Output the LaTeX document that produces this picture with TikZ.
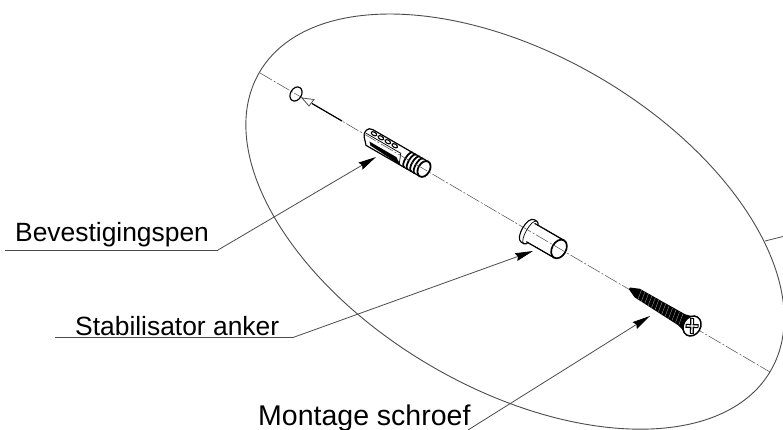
\documentclass[tikz,border=0pt]{standalone}
\usepackage{fontspec}
\setmainfont{Liberation Sans}
\usetikzlibrary{arrows.meta}
\definecolor{linegray}{gray}{0.3}
\tikzset{
  outline/.style={draw=black,line width=0.9pt,line join=round},
  heavy/.style={draw=black,line width=1.5pt},
  axisline/.style={draw=linegray,line width=0.5pt,dash pattern=on 14pt off 2pt on 2pt off 2pt},
  leader/.style={draw=linegray,line width=0.8pt,-{Stealth[length=18pt,width=8pt,inset=2pt,color=black]}},
  leaderplain/.style={draw=linegray,line width=0.8pt},
  labeltext/.style={anchor=base west,inner sep=0pt,font=\fontsize{26.4pt}{30pt}\selectfont,text=black},
}
\begin{document}
\begin{tikzpicture}[x=1pt,y=-1pt]
\useasboundingbox (0,0) rectangle (783,430);
\clip (0,0) rectangle (783,430);
\fill[white] (0,0) rectangle (783,430);
% big ellipse
\draw[draw=linegray,line width=0.9pt,rotate around={-30.3:(515,221.6)}] (515,221.6) ellipse [x radius=296pt,y radius=167pt];
% dowel
\begin{scope}[shift={(424,169)},rotate=-30]
  \draw[outline,line width=1.2pt,fill=white] (0,-8.5) -- (-64,-8.5) .. controls (-70,-8.5) and (-71,-2) .. (-68,2) -- (-62,8.5) -- (0,8.5) -- cycle;
  \foreach \px in {-6,-10,-14,-18}{
    \draw[draw=black,line width=1.8pt] (\px,-8.5) .. controls (\px-4.5,-8.5) and (\px-4.5,8.5) .. (\px,8.5);
  }
  \foreach \px in {-61,-53,-45,-37}{
    \draw[draw=black,line width=1.1pt,fill=white] (\px,-5.5) ellipse [x radius=3pt,y radius=1.7pt];
  }
  \fill[black] (-61,3.5) -- (-30,3.5) -- (-22,8.5) -- (-58,6.5) -- cycle;
  \draw[draw=black,line width=0.7pt] (-68,-2) -- (-28,-2) (-28,-2) -- (-24,8);
  \draw[draw=black,line width=1.8pt,fill=white] (0,0) ellipse [x radius=5.8pt,y radius=8.5pt];
\end{scope}
% stabiliser sleeve
\begin{scope}[shift={(559,249)},rotate=-30]
  \draw[outline,fill=white] (0,-10) -- (-32,-10) -- (-32,10) -- (0,10) -- cycle;
  \draw[outline,line width=1.1pt,fill=white] (-36,-13) .. controls (-44,-13) and (-44,13) .. (-36,13) -- (-33,13) .. controls (-27,13) and (-27,-13) .. (-33,-13) -- cycle;
  \draw[draw=black,line width=0.7pt] (-33,-13) .. controls (-39,-13) and (-39,13) .. (-33,13);
  \fill[white] (-34,-9.5) rectangle (-20,9.5);
  \draw[outline,line width=1.1pt] (-34,-10) -- (0,-10) (-32,10) -- (0,10);
  \draw[draw=black,line width=1.7pt,fill=white] (0,0) ellipse [x radius=7pt,y radius=10pt];
\end{scope}
% axis
\coordinate (axisA) at (260,73);
\coordinate (axisB) at (770,372);
\draw[axisline] (axisA) -- (axisB);
% small ring and hollow cone
\begin{scope}[shift={(296,94)},rotate=-30]
  \draw[heavy,line width=1.2pt] (0,0) ellipse [x radius=5.5pt,y radius=7.5pt];
\end{scope}
\coordinate (coneTip) at (302,98);
\coordinate (coneEnd) at (342,121);
\draw[draw=black,line width=1.2pt] (312,103.5) -- (coneEnd);
\draw[draw=linegray,line width=0.8pt,fill=white] (coneTip) -- (314,99.5) -- (309,106) -- cycle;
% screw
\begin{scope}[shift={(692,326)},rotate=-31]
  \fill[black] (-73,-1) -- (-64,-5) -- (-12,-6.5) -- (-3,-9) -- (-3,9) -- (-12,6.5) -- (-64,5) -- (-73,1) -- cycle;
  \foreach \px in {-62,-58,...,-14}{
    \draw[draw=white!70!black,line width=0.3pt] (\px,-5.5) -- (\px+2,5.5);
  }
  \draw[draw=black,line width=1.5pt,fill=white] (0,0) ellipse [x radius=8.5pt,y radius=10.5pt];
  \fill[black,rotate=30] (-6.5,-2) rectangle (6.5,2);
  \fill[black,rotate=30] (-2,-8) rectangle (2,8);
  \fill[white,rotate=30] (-5.5,-0.7) rectangle (5.5,0.7);
  \fill[white,rotate=30] (-0.7,-7) rectangle (0.7,7);
\end{scope}
% labels and leaders
\node[labeltext] (pen) at (15,241.5) {Bevestigingspen};
\node[labeltext] (stab) at (75,335) {Stabilisator anker};
\node[labeltext,font=\fontsize{28.5pt}{32pt}\selectfont] (schroef) at (258,425) {Montage schroef};
\coordinate (penStart) at (5,250);
\coordinate (penKnee) at (218,250);
\coordinate (penTip) at (376,157);
\coordinate (stabStart) at (55,337.5);
\coordinate (stabKnee) at (293,337.5);
\coordinate (stabTip) at (533,251);
\coordinate (schroefStart) at (468,430);
\coordinate (schroefTip) at (650,316);
\coordinate (rimA) at (765,241);
\coordinate (rimB) at (783,236.5);
\draw[leaderplain] (penStart) -- (penKnee);
\draw[leader] (penKnee) -- (penTip);
\draw[leaderplain] (stabStart) -- (stabKnee);
\draw[leader] (stabKnee) -- (stabTip);
\draw[leader] (schroefStart) -- (schroefTip);
\draw[leaderplain] (rimA) -- (rimB);
\end{tikzpicture}
\end{document}
